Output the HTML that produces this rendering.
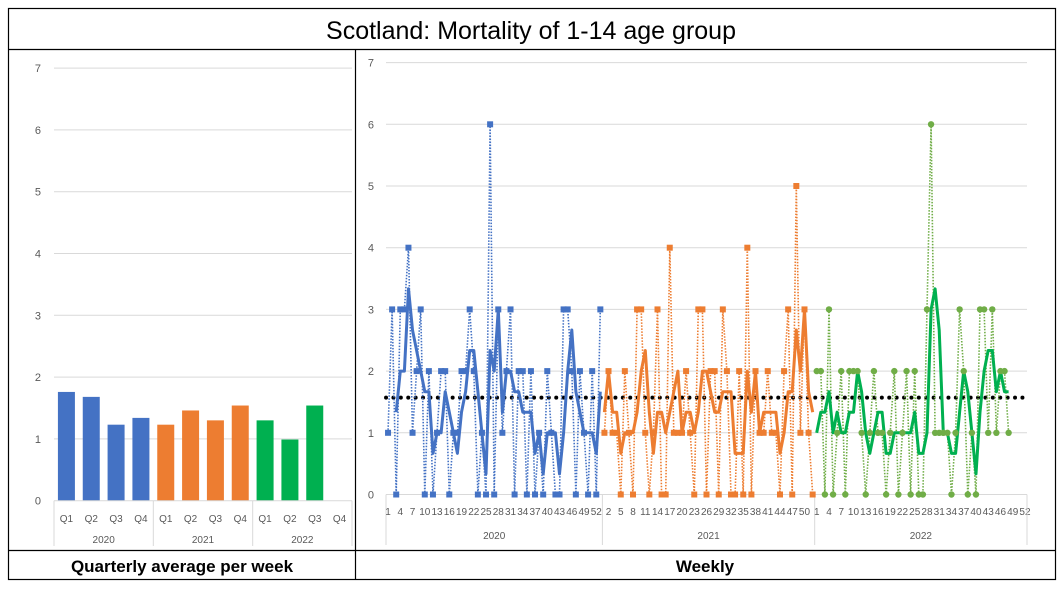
<!DOCTYPE html>
<html><head><meta charset="utf-8"><style>
body{margin:0;background:#fff;font-family:"Liberation Sans",sans-serif;}
svg{display:block}
</style></head><body>
<svg id="s" width="1063" height="589" viewBox="0 0 1063 589" xmlns="http://www.w3.org/2000/svg">
<rect x="8.5" y="8.5" width="1047" height="571" fill="#fff" stroke="#000" stroke-width="1.2"/>
<line x1="8" y1="49.5" x2="1056" y2="49.5" stroke="#000" stroke-width="1.2"/>
<line x1="8" y1="550.5" x2="1056" y2="550.5" stroke="#000" stroke-width="1.2"/>
<line x1="355.5" y1="49" x2="355.5" y2="580" stroke="#000" stroke-width="1.2"/>
<text x="531" y="39" text-anchor="middle" font-size="25">Scotland: Mortality of 1-14 age group</text>
<text x="182" y="572" text-anchor="middle" font-size="17" font-weight="bold">Quarterly average per week</text>
<text x="705" y="572" text-anchor="middle" font-size="17" font-weight="bold">Weekly</text>
<g id="left"></g>
<g id="right"></g>
</svg>
<script>
const quarters=["Q1","Q2","Q3","Q4","Q1","Q2","Q3","Q4","Q1","Q2","Q3","Q4"];
const qYears=["2020","2021","2022"];
const qValues=[1.76,1.68,1.23,1.34,1.23,1.46,1.30,1.54,1.30,0.99,1.54,null];
const yTicks=[0,1,2,3,4,5,6,7];
const w2020=[1,3,0,3,3,4,1,2,3,0,2,0,1,2,2,0,1,1,2,2,3,2,0,1,0,6,0,3,1,2,3,0,2,2,0,2,0,1,0,2,1,0,0,3,3,2,0,2,1,0,2,0,3];
const w2021=[1,2,1,1,0,2,1,0,3,3,1,0,1,3,0,0,4,1,1,1,2,1,0,3,3,0,2,2,0,3,2,0,0,2,0,4,0,2,1,1,2,1,1,0,2,3,0,5,1,3,1,0];
const w2022=[2,2,0,3,0,1,2,0,2,2,2,1,0,1,2,1,1,0,1,2,0,1,2,0,2,0,0,3,6,1,1,1,1,0,1,3,2,0,1,0,3,3,1,3,1,2,2,1];
const avgLine=1.57;
const weeksPerYear=[53,52,52];
const NS="http://www.w3.org/2000/svg";
function mk(p,t,a){const e=document.createElementNS(NS,t);for(const k in a)e.setAttribute(k,a[k]);p.appendChild(e);return e;}
const L=document.getElementById('left');
const lx0=54,lx1=352,ly0=500.7,lu=61.8;
const ly=v=>ly0-v*lu;
const lstep=(lx1-lx0)/quarters.length;
yTicks.forEach(t=>{
 if(t>0){const g=mk(L,'line',{x1:lx0,x2:lx1,y1:ly(t),y2:ly(t),stroke:'#d9d9d9','stroke-width':1});
 
 }
 const tx=mk(L,'text',{x:41,y:ly(t)+4,'text-anchor':'end','font-size':11,fill:'#595959'});tx.textContent=t;
 
 
});
const lcol=['#4472c4','#ed7d31','#00b050'];
qValues.forEach((v,i)=>{
 const cx=lx0+lstep*(i+0.5);
 if(v!=null){const r=mk(L,'rect',{x:cx-8.5,y:ly(v),width:17,height:v*lu,fill:lcol[Math.floor(i/4)]});
 
 }
 const t=mk(L,'text',{x:cx,y:522,'text-anchor':'middle','font-size':10,fill:'#595959'});t.textContent=quarters[i];
 
 
});
mk(L,'line',{x1:lx0,x2:lx1,y1:ly0,y2:ly0,stroke:'#d9d9d9'});
for(let k=0;k<=3;k++){const x=lx0+lstep*4*k;const s=mk(L,'line',{x1:x,x2:x,y1:ly0,y2:546,stroke:'#d9d9d9'});
 
 }
qYears.forEach((y,k)=>{const t=mk(L,'text',{x:lx0+lstep*(4*k+2),y:543,'text-anchor':'middle','font-size':10,fill:'#595959'});t.textContent=y;
 
 });
const R=document.getElementById('right');
const rx0=386,rx1=1027,ry0=494.5,ru=61.7;
const total=weeksPerYear.reduce((a,b)=>a+b,0);
const rstep=(rx1-rx0)/total;
const rx=i=>rx0+rstep*(i+0.5);
const ry=v=>ry0-v*ru;
yTicks.forEach(t=>{
 if(t>0){const g=mk(R,'line',{x1:rx0,x2:rx1,y1:ry(t),y2:ry(t),stroke:'#d9d9d9'});
 
 }
 const tx=mk(R,'text',{x:374,y:ry(t)+4,'text-anchor':'end','font-size':11,fill:'#595959'});tx.textContent=t;
 
 
});
mk(R,'line',{x1:rx0,x2:rx1,y1:ry0,y2:ry0,stroke:'#d9d9d9'});
let off=0;const offs=[];
weeksPerYear.forEach((n,k)=>{offs.push(off);
 const x=rx0+rstep*off;const s=mk(R,'line',{x1:x,x2:x,y1:ry0,y2:545,stroke:'#d9d9d9'});
 
 
 for(let w=1;w<=n;w++){const idx=off+w-1;if(idx%3!==0)continue;const t=mk(R,'text',{x:rx(idx),y:515,'text-anchor':'middle','font-size':10,fill:'#595959'});t.textContent=w;
  
  }
 const t=mk(R,'text',{x:rx0+rstep*(off+n/2),y:539,'text-anchor':'middle','font-size':10,fill:'#595959'});t.textContent=qYears[k];
 
 
 off+=n;});
{const x=rx1;const s=mk(R,'line',{x1:x,x2:x,y1:ry0,y2:545,stroke:'#d9d9d9'});
 
 }
const al=mk(R,'line',{x1:rx(0)-2,x2:rx(total-1),y1:ry(avgLine),y2:ry(avgLine),stroke:'#000','stroke-width':4,'stroke-linecap':'round','stroke-dasharray':'0 7.4'});


const series=[w2020,w2021,w2022];
const all=[].concat(w2020,w2021,w2022);
const wcol=['#4472c4','#ed7d31','#00b050'];const mcol=['#4472c4','#ed7d31','#70ad47'];
series.forEach((d,k)=>{
 const pts=d.map((v,i)=>rx(offs[k]+i).toFixed(1)+','+ry(v).toFixed(1)).join(' ');
 const pl=mk(R,'polyline',{points:pts,fill:'none',stroke:mcol[k],'stroke-width':1.6,'stroke-dasharray':'1.5 1.5'});
 
 
 const ap=[];
 d.forEach((v,i)=>{const g=offs[k]+i;if(g<2)return;const a=(all[g]+all[g-1]+all[g-2])/3;ap.push(rx(g).toFixed(1)+','+ry(a).toFixed(1));});
 const pa=mk(R,'polyline',{points:ap.join(' '),fill:'none',stroke:wcol[k],'stroke-width':3,'stroke-linejoin':'round'});
 
 
 d.forEach((v,i)=>{
  let m;
  if(k<2){m=mk(R,'rect',{x:rx(offs[k]+i)-3,y:ry(v)-3,width:6,height:6,fill:mcol[k]});}
  else{m=mk(R,'circle',{cx:rx(offs[k]+i),cy:ry(v),r:3.2,fill:mcol[k]});}
  
  
 });
});
</script>
</body></html>
